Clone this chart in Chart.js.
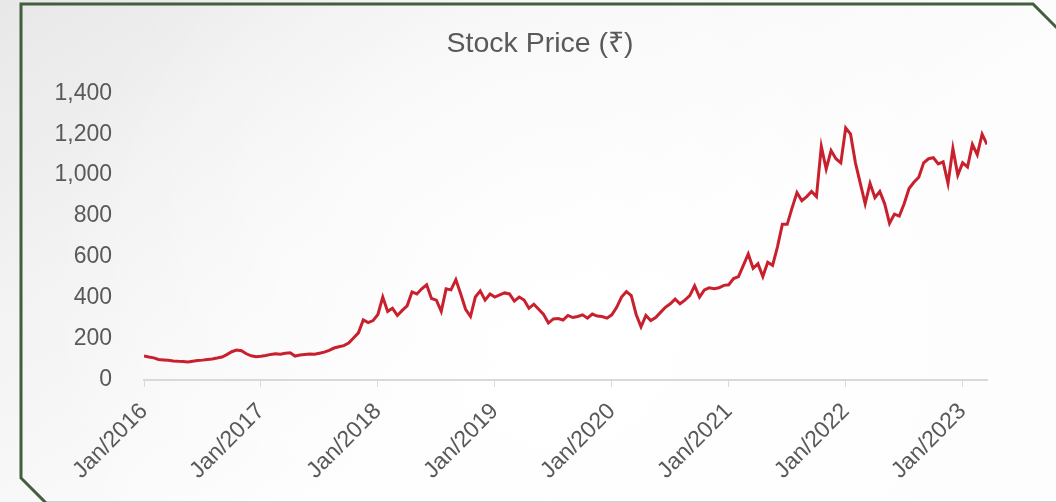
<!DOCTYPE html>
<html>
<head>
<meta charset="utf-8">
<script src="https://cdn.jsdelivr.net/npm/chart.js@4/dist/chart.umd.min.js"></script>
<style>
  html, body { margin: 0; padding: 0; background: #f2f2f2; }
  #priceChart { display: block; }
</style>
</head>
<body>
<canvas id="priceChart" width="1056" height="502"></canvas>
<script>
// semi-monthly closing prices, Jan 2016 onwards
const startYear = 2016;
const pointsPerYear = 24;
const prices = [
  117, 112, 108, 100, 98, 96, 93, 91, 90, 88, 92, 95,
  97, 100, 103, 107, 112, 124, 138, 146, 143, 128, 118, 114,
  116, 120, 125, 128, 126, 131, 133, 117, 122, 125, 127, 126,
  131, 136, 145, 156, 162, 168, 180, 205, 230, 293, 280, 290,
  320, 405, 335, 350, 315, 340, 362, 430, 420, 445, 465, 398,
  390, 335, 445, 440, 490, 420, 345, 310, 405, 435, 390, 420,
  405, 415, 425, 420, 385, 405, 390, 350, 370, 345, 320, 278,
  298, 300, 293, 315, 305, 310, 318, 302, 322, 312, 310, 302,
  318, 355, 405, 432, 412, 320, 260, 315, 290, 305, 330, 355,
  372, 395, 372, 390, 412, 460, 405, 440, 450, 445, 450, 462,
  465, 495, 505, 560, 615, 545, 568, 505, 575, 560, 650, 760,
  760, 840, 915, 875, 895, 920, 895, 1140, 1030, 1120, 1080, 1060,
  1230, 1200, 1060, 960, 860, 960, 890, 920, 860, 765, 810, 800,
  860, 935, 965, 990, 1060, 1080, 1085, 1055, 1065, 960, 1130, 1000,
  1060, 1040, 1150, 1100, 1200, 1150
];
const yearLabels = ['Jan/2016', 'Jan/2017', 'Jan/2018', 'Jan/2019', 'Jan/2020', 'Jan/2021', 'Jan/2022', 'Jan/2023'];

const points = prices.map((p, i) => ({ x: startYear + i / pointsPerYear, y: p }));
const lastX = startYear + (prices.length - 1) / pointsPerYear;

const fontFamily = 'Liberation Sans, Arial, sans-serif';

const backdrop = {
  id: 'backdrop',
  beforeDraw(chart) {
    const c = chart.ctx;
    const w = chart.width, h = chart.height;
    c.save();
    const g = c.createLinearGradient(0, 0, w * 0.3, h);
    g.addColorStop(0, '#e8e8e8');
    g.addColorStop(0.45, '#f3f3f3');
    g.addColorStop(1, '#fdfdfd');
    c.fillStyle = g;
    c.fillRect(0, 0, w, h);
    const r = c.createRadialGradient(560, 330, 40, 560, 330, 520);
    r.addColorStop(0, 'rgba(255,255,255,0.9)');
    r.addColorStop(1, 'rgba(255,255,255,0)');
    c.fillStyle = r;
    c.fillRect(0, 0, w, h);
    // frame with cut corners
    c.strokeStyle = '#415f3c';
    c.lineWidth = 3;
    c.beginPath();
    c.moveTo(47, 504);
    c.lineTo(21, 478);
    c.lineTo(21, 4);
    c.lineTo(1033, 4);
    c.lineTo(1058, 29);
    c.stroke();
    c.strokeStyle = '#d0d0d0';
    c.lineWidth = 1;
    c.beginPath();
    c.moveTo(47, 501.5);
    c.lineTo(1056, 501.5);
    c.stroke();
    c.restore();
  }
};

new Chart(document.getElementById('priceChart'), {
  type: 'line',
  data: {
    datasets: [{
      label: 'Stock Price',
      data: points,
      borderColor: '#c9202e',
      borderWidth: 3,
      pointRadius: 0,
      tension: 0,
      fill: false
    }]
  },
  options: {
    responsive: false,
    animation: false,
    layout: { padding: { left: 24, right: 0, top: 0, bottom: 0 } },
    plugins: {
      legend: { display: false },
      tooltip: { enabled: false },
      title: {
        display: true,
        text: 'Stock Price (₹)',
        color: '#595959',
        font: { family: fontFamily, size: 28.5, weight: 'normal' },
        padding: { top: 27, bottom: 32 }
      }
    },
    scales: {
      x: {
        type: 'linear',
        min: startYear,
        max: lastX,
        grid: { drawOnChartArea: false, drawTicks: true, tickLength: 7, color: '#d9d9d9' },
        border: { display: true, color: '#d9d9d9', width: 2 },
        ticks: {
          stepSize: 1,
          includeBounds: false,
          autoSkip: false,
          maxRotation: 45,
          minRotation: 45,
          padding: 11,
          color: '#595959',
          font: { family: fontFamily, size: 23 },
          callback: (v) => yearLabels[Math.round(v - startYear)]
        },
        afterFit: (s) => { s.height = 122; }
      },
      y: {
        min: 0,
        max: 1400,
        grid: { display: false },
        border: { display: false },
        ticks: {
          stepSize: 200,
          padding: 24,
          color: '#595959',
          font: { family: fontFamily, size: 23 }
        },
        afterFit: (s) => { s.width = 120; }
      },
      yRight: {
        position: 'right',
        grid: { display: false },
        border: { display: false },
        ticks: { display: false },
        afterFit: (s) => { s.width = 69; }
      }
    }
  },
  plugins: [backdrop]
});
</script>
</body>
</html>
